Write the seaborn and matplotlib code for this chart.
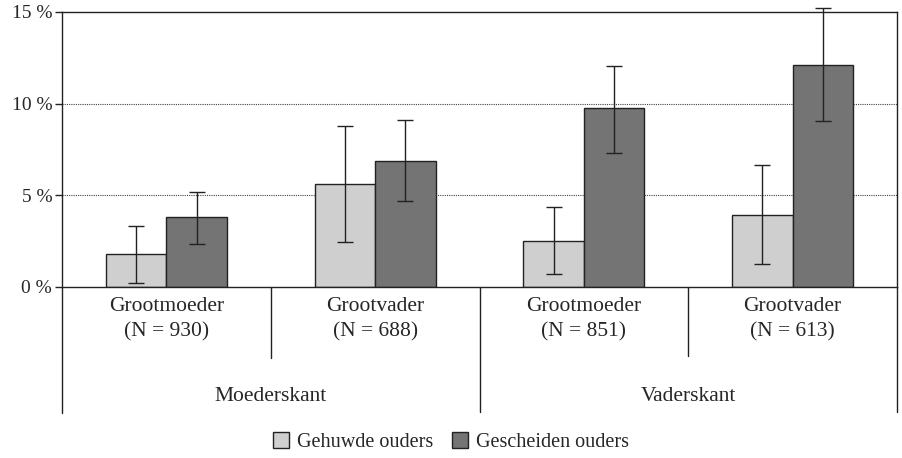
import pandas as pd
import matplotlib.pyplot as plt
import seaborn as sns

# values (percentages)
categories = ['Grootmoeder\n(N = 930)', 'Grootvader\n(N = 688)',
              'Grootmoeder\n(N = 851)', 'Grootvader\n(N = 613)']
sides = ['Moederskant', 'Vaderskant']
groups = ['Gehuwde ouders', 'Gescheiden ouders']
gehuwd = [1.8, 5.6, 2.5, 3.9]
gehuwd_lo = [0.2, 2.45, 0.7, 1.25]
gehuwd_hi = [3.3, 8.8, 4.35, 6.65]
gescheiden = [3.8, 6.85, 9.75, 12.1]
gescheiden_lo = [2.35, 4.7, 7.3, 9.05]
gescheiden_hi = [5.2, 9.1, 12.05, 15.2]
yticks = [0, 5, 10, 15]

df = pd.DataFrame({
    'categorie': categories * 2,
    'groep': [groups[0]] * 4 + [groups[1]] * 4,
    'pct': gehuwd + gescheiden,
    'lo': gehuwd_lo + gescheiden_lo,
    'hi': gehuwd_hi + gescheiden_hi,
})

sns.set_style('white')
plt.rcParams['font.family'] = ['Liberation Serif', 'DejaVu Serif']

fig = plt.figure(figsize=(9.02, 4.58), dpi=100)
ax = fig.add_axes([0.0687, 0.3734, 0.9258, 0.6004])

sns.barplot(data=df, x='categorie', y='pct', hue='groep', order=categories,
            hue_order=groups, palette=['#cfcfcf', '#747474'], width=0.58,
            edgecolor='#222222', linewidth=1.0, errorbar=None, ax=ax)

# error bars at the bar centres
for patch, (_, row) in zip(ax.patches, df.iterrows()):
    xc = patch.get_x() + patch.get_width() / 2
    eb = ax.errorbar(xc, row['pct'], yerr=[[row['pct'] - row['lo']], [row['hi'] - row['pct']]],
                     fmt='none', ecolor='#222222', elinewidth=1.0, capsize=6, capthick=1.0, zorder=4)
    for art in eb.get_children():
        art.set_clip_on(False)

ax.set_xlim(-0.5, 3.5)
ax.set_ylim(0, 15)
ax.set_yticks(yticks)
ax.set_yticklabels([f'{t} %' for t in yticks], fontsize=14)
ax.set_xticks([])
ax.set_xlabel('')
ax.set_ylabel('')
for t in [5, 10]:
    ax.axhline(t, color='#444444', lw=0.8, ls=(0, (1, 1)), zorder=0)
for s in ax.spines.values():
    s.set_color('#222222')
    s.set_linewidth(1.0)
ax.tick_params(axis='y', which='both', left=True, length=5, width=1.0, color='#222222', pad=2)

# table below the axis
line_kw = dict(color='#222222', lw=1.0, clip_on=False)
ax.plot([-0.5, -0.5], [0, -6.9], **line_kw)
ax.plot([3.5, 3.5], [0, -6.8], **line_kw)
ax.plot([1.5, 1.5], [0, -6.8], **line_kw)
ax.plot([0.5, 0.5], [0, -3.85], **line_kw)
ax.plot([2.5, 2.5], [0, -3.75], **line_kw)

for i, c in enumerate(categories):
    ax.text(i, -0.55, c, ha='center', va='top', fontsize=15.5, linespacing=1.4)
for j, s in enumerate(sides):
    ax.text(2 * j + 0.5, -5.95, s, ha='center', va='center', fontsize=15.5)

handles, labels = ax.get_legend_handles_labels()
ax.legend_.remove()
fig.legend(handles, labels, loc='center', bbox_to_anchor=(0.5, 0.035), ncol=2,
           frameon=False, fontsize=14.5, handlelength=0.8, handleheight=0.8,
           handletextpad=0.4, columnspacing=0.9)

fig.savefig('out.png', dpi=100)
